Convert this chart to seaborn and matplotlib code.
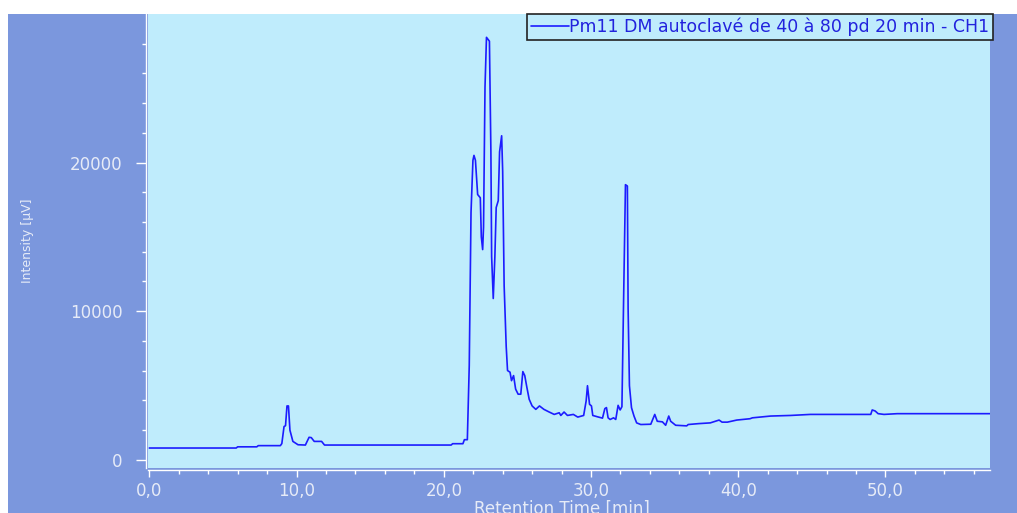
import matplotlib
matplotlib.use("Agg")
import matplotlib.pyplot as plt
from matplotlib.patches import Rectangle
from matplotlib.ticker import MultipleLocator, FuncFormatter
import seaborn as sns
import pandas as pd

# ---- data ----
time_min = [0.0, 5.9, 6.0, 7.3, 7.4, 8.9, 9.0, 9.15, 9.25, 9.35, 9.45, 9.55, 9.75, 10.1, 10.6,
            10.85, 11.0, 11.2, 11.7, 11.9, 20.5, 20.6, 21.3, 21.4, 21.6, 21.73, 21.85, 21.98,
            22.05, 22.15, 22.3, 22.48, 22.55, 22.64, 22.7, 22.8, 22.9, 23.1, 23.2, 23.25, 23.36,
            23.47, 23.56, 23.7, 23.79, 23.93, 24.0, 24.1, 24.24, 24.33, 24.5, 24.6, 24.74, 24.88,
            25.05, 25.23, 25.37, 25.5, 25.64, 25.8, 26.0, 26.25, 26.5, 26.8, 27.16, 27.5, 27.84,
            27.95, 28.17, 28.4, 28.8, 29.1, 29.5, 29.67, 29.76, 29.9, 30.03, 30.12, 30.44, 30.78,
            30.94, 31.05, 31.16, 31.3, 31.53, 31.68, 31.84, 31.98, 32.1, 32.22, 32.34, 32.47,
            32.52, 32.61, 32.75, 32.92, 33.1, 33.38, 34.06, 34.33, 34.5, 34.85, 35.07, 35.28,
            35.41, 35.75, 36.5, 36.6, 37.3, 38.1, 38.7, 38.9, 39.26, 39.9, 40.8, 40.96, 42.2,
            43.55, 44.9, 49.0, 49.1, 49.3, 49.5, 49.9, 50.8, 57.3]
intensity_uv = [800, 800, 880, 880, 960, 960, 1100, 2245, 2300, 3630, 3630, 2000, 1245, 1020, 1000,
                1520, 1500, 1245, 1245, 1000, 1000, 1090, 1090, 1360, 1360, 6350, 16645, 20150,
                20480, 20150, 17850, 17630, 15000, 14145, 15660, 25085, 28420, 28160, 20720, 13680,
                10855, 13680, 16975, 17435, 20720, 21800, 19410, 11710, 7620, 6010, 5900, 5330,
                5670, 4760, 4420, 4420, 5940, 5670, 4900, 4080, 3630, 3400, 3630, 3400, 3220, 3060,
                3170, 2990, 3220, 2990, 3060, 2880, 2990, 3970, 4990, 3740, 3630, 2990, 2900, 2810,
                3450, 3520, 2830, 2720, 2830, 2720, 3670, 3360, 3580, 11165, 18510, 18420, 10180,
                4990, 3510, 2950, 2490, 2380, 2400, 3060, 2600, 2560, 2330, 2950, 2600, 2330, 2290,
                2380, 2440, 2490, 2680, 2540, 2540, 2680, 2770, 2830, 2950, 2990, 3060, 3060, 3360,
                3290, 3110, 3060, 3110, 3110]
series_label = "Pm11 DM autoclavé de 40 à 80 pd 20 min - CH1"
x_title = "Retention Time [min]"
y_title = "Intensity [µV]"

df = pd.DataFrame({"t": time_min, "v": intensity_uv})

sns.set_theme(style="ticks")
plt.rcParams["font.family"] = ["DejaVu Sans"]

W, H = 1017, 513
FRAME = "#7b97dd"
PLOT_BG = "#bfecfc"
TXT = "#e6ebf7"
LINE = "#1c1cff"

fig = plt.figure(figsize=(W / 100, H / 100), dpi=100, facecolor="white")
fig.patches.append(Rectangle((8 / W, 0), 1 - 8 / W, (H - 14) / H,
                             transform=fig.transFigure, facecolor=FRAME,
                             edgecolor="none", zorder=-10))

left, right, top, bottom = 148, 990, 14, 468
ax = fig.add_axes([left / W, (H - bottom) / H, (right - left) / W, (bottom - top) / H])
ax.set_zorder(5)
ax.set_facecolor(PLOT_BG)

sns.lineplot(data=df, x="t", y="v", ax=ax, color=LINE, linewidth=1.2,
             estimator=None, sort=False, label=series_label)

ax.set_xlim(-0.09, 57.1)
ax.set_ylim(-544, 29990)

ax.xaxis.set_major_locator(MultipleLocator(10))
ax.xaxis.set_minor_locator(MultipleLocator(2))
ax.yaxis.set_major_locator(MultipleLocator(10000))
ax.yaxis.set_minor_locator(MultipleLocator(2000))
ax.xaxis.set_major_formatter(FuncFormatter(lambda v, p: f"{v:.1f}".replace(".", ",")))
ax.yaxis.set_major_formatter(FuncFormatter(lambda v, p: f"{int(round(v))}"))

for s in ("top", "right"):
    ax.spines[s].set_visible(False)
for s in ("left", "bottom"):
    ax.spines[s].set_color("white")
    ax.spines[s].set_linewidth(1.0)
    ax.spines[s].set_position(("outward", 1.5))

ax.tick_params(axis="both", which="major", direction="out", color="white",
               width=1.0, labelcolor=TXT, labelsize=12)
ax.tick_params(axis="y", which="major", length=7, pad=10)
ax.tick_params(axis="x", which="major", length=5, pad=3.5)
ax.tick_params(axis="both", which="minor", direction="out", color="white",
               length=3, width=1.0)
ax.grid(False)

ax.set_xlabel(x_title, color=TXT, fontsize=12, va="center")
ax.xaxis.set_label_coords((562 - left) / (right - left), -(509 - bottom) / (bottom - top))
ax.set_ylabel(y_title, color=TXT, fontsize=9, va="center")
ax.yaxis.set_label_coords(-(left - 28) / (right - left), 0.5)

leg = ax.legend(loc="upper right", bbox_to_anchor=(1 + 3 / (right - left), 1.0),
                borderaxespad=0, frameon=True, fancybox=False, framealpha=1,
                facecolor=PLOT_BG, edgecolor="#222222", fontsize=12.5,
                handlelength=2.2, handletextpad=0.0, borderpad=0.22,
                labelcolor="#2222dd")
leg.get_frame().set_linewidth(1.2)

fig.savefig("out.png", dpi=100, facecolor=fig.get_facecolor())
